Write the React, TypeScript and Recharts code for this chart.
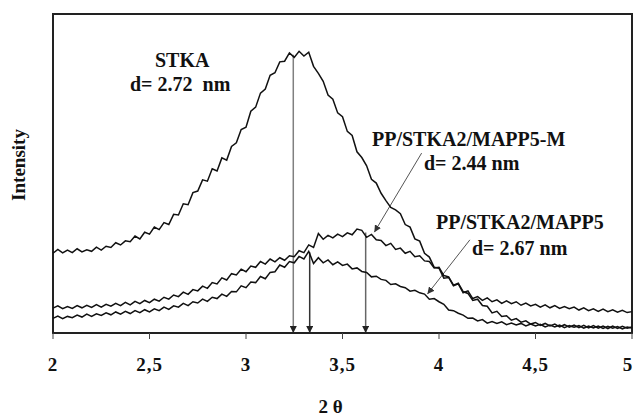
import React from "react";
import {
  LineChart,
  Line,
  XAxis,
  YAxis,
  ReferenceLine,
  ReferenceArea,
  Customized,
} from "recharts";

// scan grid: 2θ from 2 to 5 deg, 0.025 step
const THETA_START = 2;
const THETA_STEP = 0.025;

const TICKS = [2, 2.5, 3, 3.5, 4, 4.5, 5];

// intensities (arbitrary units, 0 = bottom axis, 100 = top frame)
const STKA = [
  25.0, 26.2, 25.1, 26.0, 25.2, 26.4, 25.4, 26.1, 25.6, 26.9, 26.0, 27.2,
  26.8, 28.3, 27.6, 28.9, 28.6, 30.4, 29.5, 31.6, 31.0, 33.2, 32.4, 34.6,
  34.0, 37.2, 37.0, 40.5, 40.2, 44.0, 44.5, 48.0, 47.6, 51.5, 50.8, 54.9,
  54.2, 58.5, 59.6, 63.8, 64.5, 69.5, 70.8, 75.2, 76.5, 80.8, 81.6, 85.0,
  85.2, 87.8, 86.4, 88.3, 86.8, 88.0, 83.6, 81.4, 78.9, 74.6, 73.3, 69.0,
  67.8, 63.2, 61.9, 56.8, 55.0, 52.4, 48.2, 47.0, 43.8, 41.5, 39.4, 38.6,
  37.4, 34.0, 33.2, 29.5, 28.8, 25.0, 23.8, 20.6, 20.3, 17.2, 17.4, 14.8,
  15.4, 12.6, 13.2, 10.8, 11.4, 10.2, 11.0, 9.8, 10.4, 9.3, 10.1, 9.2,
  9.8, 8.7, 9.4, 8.5, 9.0, 8.1, 8.8, 7.9, 8.6, 7.7, 8.3, 7.6,
  8.1, 7.2, 7.9, 7.0, 7.6, 6.8, 7.5, 6.7, 7.3, 6.5, 7.1, 6.4,
  6.7,
];

const MAPP5_M = [
  7.8, 8.5, 7.6, 8.3, 7.7, 8.6, 7.9, 8.7, 8.0, 8.9, 8.1, 9.0,
  8.4, 9.3, 8.6, 9.6, 8.8, 9.9, 9.2, 10.2, 9.5, 10.6, 10.0, 11.2,
  10.6, 11.9, 11.4, 12.8, 12.1, 13.6, 13.2, 14.7, 14.0, 15.8, 15.4, 17.3,
  16.6, 18.6, 18.2, 20.0, 19.2, 21.0, 20.6, 22.4, 21.6, 23.2, 22.3, 23.6,
  22.8, 24.2, 23.9, 25.8, 25.2, 27.6, 26.8, 31.2, 29.4, 30.6, 29.8, 31.0,
  30.2, 31.4, 30.8, 32.6, 32.2, 30.0, 30.9, 29.2, 29.0, 27.4, 28.1, 26.2,
  26.6, 25.0, 25.6, 23.9, 24.2, 22.6, 22.4, 20.4, 20.6, 18.0, 17.6, 15.0,
  15.6, 13.0, 12.4, 10.2, 10.6, 8.6, 8.4, 6.3, 6.8, 5.2, 5.4, 4.0,
  4.5, 3.4, 3.8, 2.8, 3.3, 2.4, 3.0, 2.2, 2.8, 1.9, 2.6, 1.8,
  2.5, 1.7, 2.4, 1.6, 2.3, 1.5, 2.2, 1.4, 2.2, 1.4, 2.1, 1.5,
  1.9,
];

const MAPP5 = [
  4.6, 5.3, 4.5, 5.2, 4.8, 5.6, 5.0, 5.9, 5.2, 6.0, 5.5, 6.3,
  5.7, 6.6, 5.9, 6.8, 6.1, 7.0, 6.4, 7.3, 6.6, 7.6, 7.0, 8.1,
  7.4, 8.5, 8.1, 9.3, 8.6, 9.8, 9.4, 10.6, 9.9, 11.2, 10.8, 12.2,
  11.5, 13.0, 12.9, 14.8, 14.2, 16.0, 15.8, 17.7, 17.0, 19.0, 19.2, 21.3,
  20.6, 22.4, 22.0, 24.0, 23.2, 25.6, 21.8, 23.6, 22.0, 22.9, 21.4, 22.3,
  21.2, 21.6, 20.1, 20.4, 19.3, 19.0, 17.6, 17.8, 16.8, 16.5, 15.2, 15.4,
  14.6, 14.2, 13.1, 13.4, 12.6, 12.2, 10.6, 10.8, 9.8, 9.0, 7.2, 7.0,
  6.2, 5.6, 4.6, 4.7, 3.8, 4.2, 3.1, 3.6, 3.0, 3.5, 2.6, 3.1,
  2.5, 3.0, 2.2, 2.8, 2.2, 2.7, 1.9, 2.5, 1.9, 2.5, 1.7, 2.3,
  1.8, 2.3, 1.5, 2.2, 1.6, 2.2, 1.4, 2.1, 1.5, 2.0, 1.3, 1.9,
  1.6,
];

// peak positions (2θ) and intensity at the top of each drop arrow
const PEAK_ARROWS = [
  { x: 3.245, top: 87.2, color: "#808080" },
  { x: 3.33, top: 25.3, color: "#333" },
  { x: 3.62, top: 31.5, color: "#666" },
];

// label pointers: from label to curve
const POINTERS = [
  { from: { x: 3.91, y: 56.4 }, to: { x: 3.665, y: 31.6 } },
  { from: { x: 4.16, y: 29.2 }, to: { x: 3.94, y: 12.2 } },
];

const data = STKA.map((v, i) => ({
  theta: +(THETA_START + i * THETA_STEP).toFixed(3),
  stka: v,
  mappm: MAPP5_M[i],
  mapp: MAPP5[i],
}));

const FONT = "'Liberation Serif', 'Times New Roman', serif";

const arrowShape = (marker: string) => (p: any) =>
  (
    <line
      x1={p.x1}
      y1={p.y1}
      x2={p.x2}
      y2={p.y2}
      stroke={p.stroke}
      strokeWidth={p.strokeWidth}
      markerEnd={`url(#${marker})`}
    />
  );

// tick label; the last one is nudged inward so it stays on the page
const ThetaTick = (props: any) => {
  const { x, y, payload } = props;
  const last = payload.value === TICKS[TICKS.length - 1];
  return (
    <text
      x={last ? x - 4 : x}
      y={y}
      dy="0.71em"
      textAnchor="middle"
      style={{ fontFamily: FONT, fontWeight: 700, fontSize: 19, fill: "#111", letterSpacing: 1 }}
    >
      {String(payload.value).replace(".", ",")}
    </text>
  );
};

const Annotations = () => {
  const t = { fontFamily: FONT, fontWeight: 700, fontSize: 20, fill: "#111", whiteSpace: "pre" } as any;
  return (
    <g>
      <text x={155} y={67} style={t}>STKA</text>
      <text x={130} y={91} style={t}>{"d= 2.72  nm"}</text>
      <text x={372} y={146} style={t}>PP/STKA2/MAPP5-M</text>
      <text x={424} y={170} style={t}>d= 2.44 nm</text>
      <text x={436} y={229} style={t}>PP/STKA2/MAPP5</text>
      <text x={472} y={255} style={t}>d= 2.67 nm</text>
      <text
        x={25}
        y={165}
        transform="rotate(-90 25 165)"
        textAnchor="middle"
        style={{ ...t, fontSize: 19 }}
      >
        Intensity
      </text>
    </g>
  );
};

const XLabel = (props: any) => {
  const vb = props.viewBox;
  return (
    <text
      x={vb.x + vb.width / 2 - 12}
      y={vb.y + 80}
      textAnchor="middle"
      style={{ fontFamily: FONT, fontWeight: 700, fontSize: 19, fill: "#111" }}
    >
      2 θ
    </text>
  );
};

export default function App() {
  return (
    <div style={{ position: "absolute", left: 0, top: 0, background: "#fff" }}>
      <svg width={0} height={0} style={{ position: "absolute" }}>
        <defs>
          <marker
            id="headDown"
            viewBox="0 0 8 8"
            refX={8}
            refY={4}
            markerWidth={7}
            markerHeight={7}
            markerUnits="userSpaceOnUse"
            orient="auto"
          >
            <path d="M0,0 L8,4 L0,8 z" fill="#222" />
          </marker>
          <marker
            id="headPtr"
            viewBox="0 0 8 8"
            refX={8}
            refY={4}
            markerWidth={7}
            markerHeight={7}
            markerUnits="userSpaceOnUse"
            orient="auto"
          >
            <path d="M0,0 L8,4 L0,8 z" fill="#333" />
          </marker>
        </defs>
      </svg>
      <LineChart
        width={634}
        height={416}
        data={data}
        margin={{ top: 14, right: 2, left: 53, bottom: 0 }}
      >
        <XAxis
          dataKey="theta"
          type="number"
          domain={[2, 5]}
          ticks={TICKS}
          interval={0}
          height={83}
          tick={<ThetaTick />}
          tickSize={6}
          tickMargin={19}
          tickLine={{ stroke: "#444", strokeWidth: 1 }}
          axisLine={{ stroke: "#222", strokeWidth: 2 }}
          label={<XLabel />}
        />
        <YAxis hide domain={[0, 100]} type="number" />
        <ReferenceArea
          x1={2}
          x2={5}
          y1={0}
          y2={100}
          fill="none"
          stroke="#222"
          strokeWidth={2}
        />
        {PEAK_ARROWS.map((a, i) => (
          <ReferenceLine
            key={`pk${i}`}
            segment={[
              { x: a.x, y: a.top },
              { x: a.x, y: 0 },
            ]}
            stroke={a.color}
            strokeWidth={1.5}
            shape={arrowShape("headDown")}
          />
        ))}
        {POINTERS.map((p, i) => (
          <ReferenceLine
            key={`pt${i}`}
            segment={[p.from, p.to]}
            stroke="#555"
            strokeWidth={1}
            shape={arrowShape("headPtr")}
          />
        ))}
        <Line
          dataKey="stka"
          type="linear"
          stroke="#111"
          strokeWidth={1.5}
          dot={false}
          isAnimationActive={false}
        />
        <Line
          dataKey="mappm"
          type="linear"
          stroke="#111"
          strokeWidth={1.5}
          dot={false}
          isAnimationActive={false}
        />
        <Line
          dataKey="mapp"
          type="linear"
          stroke="#111"
          strokeWidth={1.5}
          dot={false}
          isAnimationActive={false}
        />
        <Customized component={Annotations} />
      </LineChart>
    </div>
  );
}
